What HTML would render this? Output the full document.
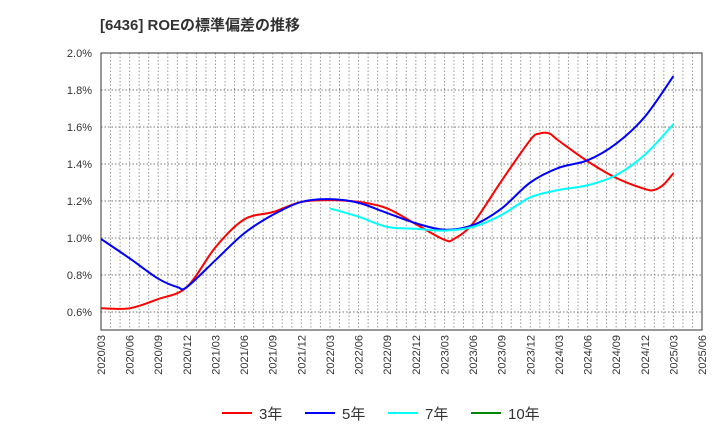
<!DOCTYPE html>
<html><head><meta charset="utf-8"><style>
body{margin:0;background:#fff;font-family:"Liberation Sans","Noto Sans CJK JP",sans-serif;}
</style></head><body>
<svg id="chart" width="720" height="440" xmlns="http://www.w3.org/2000/svg" font-family="Liberation Sans, Noto Sans CJK JP, sans-serif">
<text x="100" y="30" font-size="15" font-weight="bold" fill="#333">[6436]  ROEの標準偏差の推移</text>
<g id="grid"></g><g id="axes"></g><g id="series"></g><g id="legend"></g>
</svg>
<script>
const xTickLabels=["2020/03","2020/06","2020/09","2020/12","2021/03","2021/06","2021/09","2021/12","2022/03","2022/06","2022/09","2022/12","2023/03","2023/06","2023/09","2023/12","2024/03","2024/06","2024/09","2024/12","2025/03","2025/06"];
const yTicks=[0.6,0.8,1.0,1.2,1.4,1.6,1.8,2.0];
const redMonths=[0,3,6,9,12,15,18,21,24,27,30,33,36,37,39,42,45,46,47,48,51,54,57,58,59,60];
const redVals=[0.62,0.62,0.67,0.735,0.95,1.10,1.14,1.195,1.205,1.195,1.16,1.075,0.99,0.995,1.08,1.31,1.53,1.565,1.565,1.525,1.415,1.325,1.265,1.26,1.29,1.35];
const blueMonths=[0,3,6,8,9,12,15,18,21,24,27,30,33,36,39,42,45,48,51,54,57,60];
const blueVals=[0.995,0.89,0.78,0.735,0.735,0.88,1.025,1.125,1.195,1.21,1.19,1.135,1.08,1.045,1.07,1.16,1.30,1.38,1.42,1.51,1.655,1.875];
const cyanMonths=[24,27,30,33,36,39,42,45,48,51,54,57,60];
const cyanVals=[1.16,1.115,1.06,1.05,1.04,1.06,1.125,1.22,1.26,1.285,1.34,1.45,1.615];
const greenMonths=[];const greenVals=[];
const X0=101,X1=702,Y0=53,Y1=330,NM=63;
const xs=m=>X0+(X1-X0)*m/NM;
const ys=v=>Y0+(2.0-v)*185;
const NS="http://www.w3.org/2000/svg";
function mk(tag,attrs,parent){const e=document.createElementNS(NS,tag);for(const k in attrs)e.setAttribute(k,attrs[k]);parent.appendChild(e);return e;}
const grid=document.getElementById('grid'),axes=document.getElementById('axes'),ser=document.getElementById('series'),leg=document.getElementById('legend');
for(let m=1;m<NM;m++){const l=mk('line',{x1:xs(m),x2:xs(m),y1:Y0,y2:Y1,stroke:'#999','stroke-dasharray':'1.5,2','stroke-width':1},grid);

}
yTicks.forEach(v=>{const l=mk('line',{x1:X0,x2:X1,y1:ys(v),y2:ys(v),stroke:'#777','stroke-dasharray':'1.5,2','stroke-width':1},grid);


const t=mk('text',{x:92,y:ys(v)+4,'text-anchor':'end','font-size':11,fill:'#333'},axes);t.textContent=v.toFixed(1)+'%';

});
xTickLabels.forEach((s,i)=>{const x=xs(i*3);const t=mk('text',{transform:`translate(${x+4},335) rotate(-90)`,'text-anchor':'end','font-size':11,fill:'#333'},axes);t.textContent=s;

});
const fr=mk('rect',{x:X0,y:Y0,width:X1-X0,height:Y1-Y0,fill:'none',stroke:'#333','stroke-width':1},axes);


function path(ms,vs){const p=ms.map((m,i)=>[xs(m),ys(vs[i])]);if(!p.length)return'';let d=`M${p[0][0]},${p[0][1]}`;
for(let i=0;i<p.length-1;i++){const a=p[Math.max(0,i-1)],b=p[i],c=p[i+1],e=p[Math.min(p.length-1,i+2)];
d+=` C${b[0]+(c[0]-a[0])/6},${b[1]+(c[1]-a[1])/6} ${c[0]-(e[0]-b[0])/6},${c[1]-(e[1]-b[1])/6} ${c[0]},${c[1]}`;}return d;}
const S=[["3年","#f00",redMonths,redVals,"series-3y"],["5年","#00f",blueMonths,blueVals,"series-5y"],["7年","#0ff",cyanMonths,cyanVals,"series-7y"],["10年","#080",greenMonths,greenVals,"series-10y"]];
S.forEach((s,i)=>{if(s[2].length){const p=mk('path',{d:path(s[2],s[3]),fill:'none',stroke:s[1],'stroke-width':2},ser);

}
const lx=[222,305,388,471][i];
const g=mk('g',{},leg);


mk('line',{x1:lx,x2:lx+30,y1:413,y2:413,stroke:s[1],'stroke-width':2},g);
const t=mk('text',{x:lx+37,y:419,'font-size':15,fill:'#333'},g);t.textContent=s[0];});
</script>
</body></html>
